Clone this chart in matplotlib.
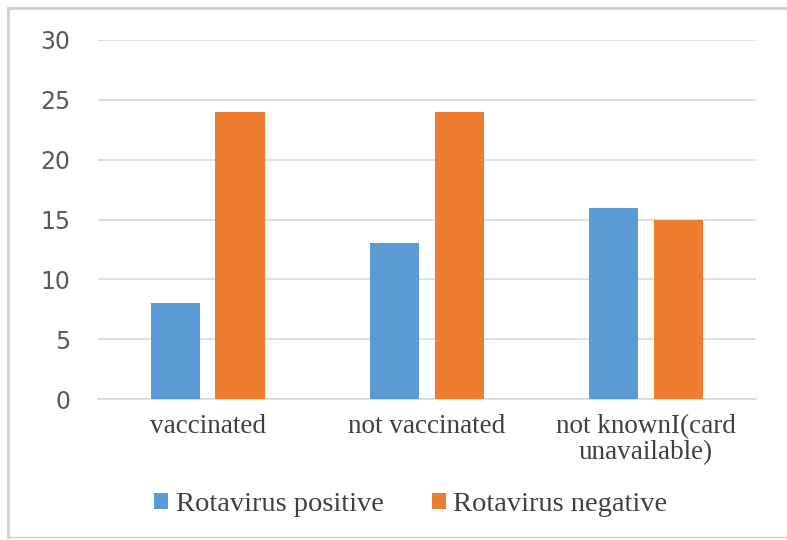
import numpy as np
import matplotlib.pyplot as plt
from matplotlib.lines import Line2D

categories = ['vaccinated', 'not vaccinated', 'not knownI(card\nunavailable)']
positive = [8, 13, 16]
negative = [24, 24, 15]
series_names = ['Rotavirus positive', 'Rotavirus negative']
yticks = [0, 5, 10, 15, 20, 25, 30]

blue = '#5B9BD5'
orange = '#ED7D31'

fig = plt.figure(figsize=(7.87, 5.4), dpi=100)
ax = fig.add_axes([0.125, 0.261, 0.835, 0.665])

x = np.arange(len(categories))
w = 0.225
ax.bar(x - 0.147, positive, w, color=blue, label=series_names[0], zorder=3)
ax.bar(x + 0.147, negative, w, color=orange, label=series_names[1], zorder=3)

ax.set_xlim(-0.5, 2.5)
ax.set_ylim(0, 30)
ax.set_yticks(yticks)
ax.grid(axis='y', color='#d9d9d9', linewidth=1.2, zorder=0)
for s in ['top', 'right', 'left']:
    ax.spines[s].set_visible(False)
ax.spines['bottom'].set_color('#d9d9d9')
ax.spines['bottom'].set_linewidth(1.2)
ax.tick_params(axis='both', length=0)
ax.tick_params(axis='y', pad=20, labelsize=17, labelcolor='#595959')

ax.set_xticks(x)
ax.set_xticklabels(categories, fontfamily='Liberation Serif', fontsize=19.5,
                   color='#404040', linespacing=1.05)
ax.tick_params(axis='x', pad=11)
for t in ax.get_yticklabels():
    t.set_fontfamily('DejaVu Sans')

leg = fig.legend(loc='center', bbox_to_anchor=(0.522, 0.065), ncol=2, frameon=False,
                 prop={'family': 'Liberation Serif', 'size': 20.5},
                 handlelength=0.5, handleheight=0.5, handletextpad=0.25,
                 columnspacing=1.7)
for t in leg.get_texts():
    t.set_color('#404040')

# outer chart border
fig.add_artist(Line2D([0.01, 0.01], [0.005, 0.985], color='#d0d0d0', lw=2, transform=fig.transFigure))
fig.add_artist(Line2D([0.01, 1.0], [0.985, 0.985], color='#d0d0d0', lw=2, transform=fig.transFigure))
fig.add_artist(Line2D([0.01, 1.0], [0.005, 0.005], color='#d0d0d0', lw=1, transform=fig.transFigure))

fig.savefig('out.png', dpi=100)
